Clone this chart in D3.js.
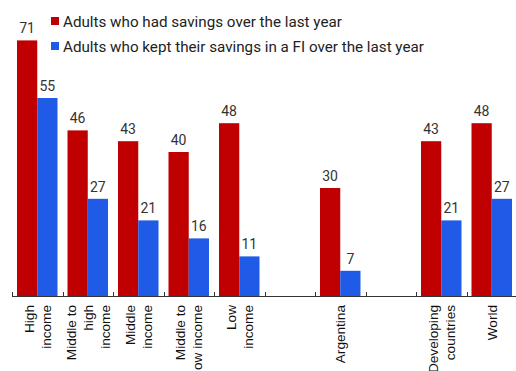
<!DOCTYPE html>
<html>
<head>
<meta charset="utf-8">
<script src="https://cdn.jsdelivr.net/npm/d3@7"></script>
<style>
  body { margin: 0; background: #fff; }
  svg { display: block; }
</style>
</head>
<body>
<svg id="chart" width="516" height="371"></svg>
<script>
// categories (empty ones are spacer slots in the original chart)
const categories = ["high", "midHigh", "middle", "midLow", "low", "gap1", "argentina", "gap2", "developing", "world"];
const categoryLabels = [
  ["High", "income"],
  ["Middle to", "high", "income"],
  ["Middle", "income"],
  ["Middle to", "low income"],
  ["Low", "income"],
  [],
  ["Argentina"],
  [],
  ["Developing", "countries"],
  ["World"]
];
const savedValues = [71, 46, 43, 40, 48, null, 30, null, 43, 48];
const savedInFIValues = [55, 27, 21, 16, 11, null, 7, null, 21, 27];
const seriesNames = ["Adults who had savings over the last year", "Adults who kept their savings in a FI over the last year"];
const seriesColors = ["#c00000", "#1f5be6"];

const svg = d3.select("#chart");
const baseY = 296;

const x = d3.scaleBand()
  .domain(categories)
  .range([12, 517])
  .padding(0);

const inner = d3.scaleBand()
  .domain([0, 1])
  .range([5, x.bandwidth() - 5])
  .padding(0);

const y = d3.scaleLinear()
  .domain([0, 80])
  .range([baseY, 8]);

const rows = categories.map((c, i) => ({ key: c, values: [savedValues[i], savedInFIValues[i]] }));

// Bars
const group = svg.selectAll(".grp")
  .data(rows)
  .enter()
  .append("g")
  .attr("class", "grp")
  .attr("transform", d => `translate(${x(d.key)},0)`);

const bar = group.selectAll(".bar")
  .data(d => d.values.map((v, s) => ({ v, s })).filter(e => e.v != null))
  .enter();

bar.append("rect")
  .attr("x", d => inner(d.s))
  .attr("y", d => y(d.v))
  .attr("width", inner.bandwidth())
  .attr("height", d => baseY - y(d.v))
  .attr("fill", d => seriesColors[d.s]);

// Value labels
bar.append("text")
  .attr("x", d => inner(d.s) + inner.bandwidth() / 2)
  .attr("y", d => y(d.v) - 7)
  .attr("text-anchor", "middle")
  .attr("font-family", "Roboto, sans-serif")
  .attr("font-size", "14px")
  .attr("fill", "#333")
  .text(d => d.v);

// Axis line and ticks
svg.append("line")
  .attr("x1", 12).attr("x2", 516)
  .attr("y1", baseY + 0.5).attr("y2", baseY + 0.5)
  .attr("stroke", "#333").attr("stroke-width", 1);

svg.selectAll(".tick")
  .data(categories.slice(1).concat(["__start"]))
  .enter()
  .append("line")
  .attr("x1", d => d === "__start" ? 12.5 : Math.round(x(d)) + 0.5)
  .attr("x2", d => d === "__start" ? 12.5 : Math.round(x(d)) + 0.5)
  .attr("y1", baseY - 4)
  .attr("y2", baseY + 1)
  .attr("stroke", "#333");

// Category labels (rotated)
const lineH = 17;
categories.forEach((c, i) => {
  const lines = categoryLabels[i];
  if (!lines.length) return;
  const cx = x(c) + x.bandwidth() / 2;
  const first = cx + 5 - (lines.length - 1) * lineH / 2;
  lines.forEach((t, j) => {
    const bx = first + j * lineH;
    svg.append("text")
      .attr("transform", `translate(${bx},305) rotate(-90)`)
      .attr("text-anchor", "end")
      .attr("font-family", "Liberation Sans, Arial, sans-serif")
      .attr("font-size", "13.6px")
      .attr("fill", "#111")
      .text(t);
  });
});

// Legend
const legend = svg.selectAll(".legend")
  .data(seriesNames)
  .enter()
  .append("g")
  .attr("class", "legend")
  .attr("transform", (d, i) => `translate(51,${17 + i * 25})`);

legend.append("rect")
  .attr("width", 8).attr("height", 8)
  .attr("fill", (d, i) => seriesColors[i]);

legend.append("text")
  .attr("x", 12)
  .attr("y", 9.5)
  .attr("font-family", "Roboto, sans-serif")
  .attr("font-size", "15.2px")
  .attr("fill", "#222")
  .text(d => d);
</script>
</body>
</html>
